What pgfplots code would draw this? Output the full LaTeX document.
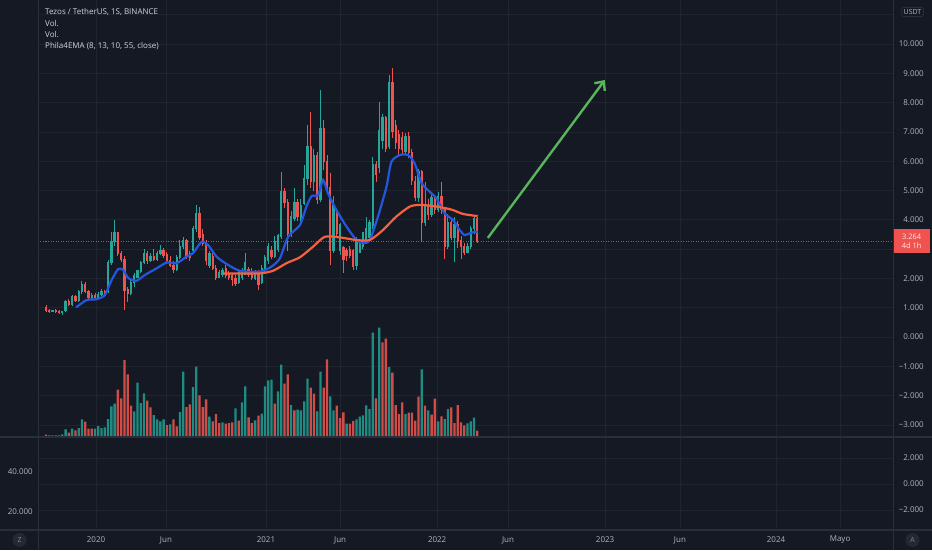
\documentclass[border=0pt]{standalone}
\usepackage{fontspec}
\setmainfont{Open Sans}
\usepackage{pgfplots}
\pgfplotsset{compat=1.18}
\usepackage{pgfplotstable}
\usetikzlibrary{arrows.meta}
\definecolor{bgc}{HTML}{151924}
\definecolor{gridc}{HTML}{20242E}
\definecolor{sepc}{HTML}{2A2E39}
\definecolor{txt}{HTML}{B2B5BE}
\definecolor{ttl}{HTML}{D1D4DC}
\definecolor{upc}{HTML}{26A69A}
\definecolor{dnc}{HTML}{EF5350}
\definecolor{vup}{HTML}{1F8C83}
\definecolor{vdn}{HTML}{CF4D48}
\definecolor{emab}{HTML}{2457E0}
\definecolor{emar}{HTML}{F5613E}
\definecolor{arr}{HTML}{58B55C}
\definecolor{lbl}{HTML}{F0524F}

\pgfplotstableread{
w o h l c v g
0 1.02 1.08 0.85 0.90 2.3 0
1 0.90 0.95 0.82 0.88 1.7 0
2 0.88 0.93 0.84 0.91 1.7 1
3 0.91 0.94 0.83 0.86 1.7 0
4 0.86 0.92 0.80 0.84 1.7 0
5 0.84 0.90 0.76 0.88 2.7 1
6 0.90 1.25 0.86 1.20 7.7 1
7 1.22 1.30 1.05 1.10 4.3 0
8 1.10 1.45 1.05 1.38 8.3 1
9 1.38 1.45 1.20 1.25 6.7 0
10 1.25 1.62 1.20 1.55 9.0 1
11 1.55 1.90 1.48 1.80 17.7 1
12 1.80 1.88 1.50 1.55 15.3 0
13 1.55 1.62 1.30 1.35 8.3 0
14 1.35 1.50 1.28 1.42 8.3 0
15 1.42 1.50 1.30 1.36 8.3 1
16 1.36 1.55 1.30 1.45 11.0 1
17 1.45 1.65 1.40 1.55 9.0 1
18 1.55 1.60 1.38 1.42 9.7 1
19 1.55 2.62 1.50 2.55 18.0 1
20 2.55 3.60 2.45 3.25 30.7 1
21 3.25 3.98 3.10 3.55 33.3 1
22 3.55 3.60 2.75 2.85 47.3 0
23 2.85 2.95 2.55 2.65 38.7 0
24 2.65 2.75 0.92 1.60 77.0 0
25 1.62 1.70 1.20 1.48 62.7 0
26 1.48 1.95 1.42 1.85 31.3 0
27 1.85 2.20 1.70 2.10 25.7 1
28 2.05 2.30 2.00 2.25 54.3 1
29 2.25 2.60 2.20 2.55 34.0 1
30 2.55 3.00 2.50 2.85 43.7 1
31 2.85 2.95 2.50 2.60 36.3 0
32 2.60 2.85 2.55 2.75 29.7 0
33 2.75 3.00 2.60 2.65 22.0 1
34 2.65 2.95 2.60 2.85 17.7 1
35 2.85 3.15 2.80 2.95 15.7 1
36 2.95 3.05 2.70 2.80 17.7 1
37 2.80 2.90 2.50 2.60 12.0 0
38 2.60 2.75 2.40 2.45 12.7 1
39 2.45 2.60 2.20 2.30 17.7 0
40 2.30 2.80 2.25 2.70 10.7 0
41 2.70 3.30 2.65 3.10 25.0 1
42 3.10 3.40 3.00 3.30 65.3 1
43 3.30 3.35 2.65 2.75 30.0 0
44 2.85 2.95 2.60 2.70 32.7 0
45 2.95 3.80 2.90 3.70 50.0 1
46 3.70 4.50 3.60 4.20 70.3 1
47 4.20 4.45 3.30 3.40 41.7 0
48 3.50 3.70 3.10 3.20 30.0 0
49 3.20 3.30 2.45 2.60 37.7 0
50 2.45 2.95 2.35 2.85 20.3 1
51 2.75 2.85 2.30 2.35 15.7 0
52 2.35 2.45 1.95 2.05 23.0 0
53 2.05 2.30 2.00 2.20 14.0 0
54 2.15 2.35 2.05 2.25 14.7 1
55 2.35 2.45 2.00 2.10 13.3 0
56 2.15 2.25 1.95 2.02 14.0 0
57 2.10 2.20 1.75 1.95 14.7 0
58 2.00 2.10 1.75 1.82 28.7 1
59 1.85 2.30 1.80 2.20 16.3 0
60 2.05 2.35 1.95 2.25 34.7 1
61 2.15 2.85 2.10 2.55 50.7 1
62 2.30 2.40 2.05 2.15 19.7 0
63 2.20 2.35 1.95 2.05 14.0 0
64 2.00 2.30 1.95 2.20 16.7 1
65 2.20 2.30 1.60 1.80 21.3 0
66 1.85 2.45 1.80 2.35 23.3 1
67 2.30 2.80 2.20 2.70 50.7 1
68 2.60 3.20 2.50 3.10 56.7 1
69 2.95 3.10 2.65 2.75 57.3 1
70 2.75 3.45 2.70 3.25 33.3 0
71 3.00 3.50 2.90 3.45 45.7 1
72 3.45 5.64 3.35 4.95 72.3 1
73 4.95 5.10 4.40 4.60 53.3 0
74 4.60 4.70 2.95 3.55 62.7 0
75 3.50 4.30 3.40 4.10 32.0 1
76 4.05 5.07 3.95 4.60 26.7 0
77 4.60 4.70 3.95 4.10 27.3 1
78 4.00 4.70 3.90 4.50 26.7 1
79 4.55 5.87 4.50 5.40 35.7 1
80 5.40 7.24 5.20 6.50 58.3 1
81 6.50 7.69 5.10 5.30 49.3 0
82 5.30 6.40 5.00 6.20 43.3 0
83 6.20 6.30 4.55 4.70 25.7 1
84 4.70 8.43 4.60 7.10 65.3 1
85 7.10 7.40 5.70 6.00 49.3 0
86 6.00 6.20 4.90 5.10 77.7 0
87 5.10 5.60 2.46 2.95 40.7 1
88 2.95 4.80 2.85 4.50 26.7 1
89 4.20 4.40 3.40 3.55 31.3 0
90 2.95 3.90 2.80 3.85 19.0 0
91 3.05 3.10 2.17 2.65 24.7 0
92 2.95 3.05 2.60 2.80 13.3 1
93 3.00 3.10 2.70 2.80 13.3 0
94 2.95 3.00 2.30 2.40 16.0 0
95 2.45 3.40 2.30 3.30 17.7 1
96 2.90 3.25 2.85 3.15 20.3 1
97 3.10 3.60 3.00 3.55 21.7 1
98 3.25 4.10 3.20 3.70 31.7 1
99 3.40 4.00 3.30 3.90 28.0 1
100 3.80 6.15 3.70 5.90 104.3 1
101 5.90 6.00 5.30 5.55 38.7 0
102 5.80 8.03 5.60 7.05 109.3 1
103 6.70 7.60 6.40 7.50 94.7 0
104 7.50 7.55 6.30 6.45 98.3 0
105 6.50 8.94 6.40 8.70 70.0 1
106 8.70 9.17 6.80 7.00 64.3 0
107 7.20 7.41 6.40 6.65 32.0 0
108 6.90 7.05 6.20 6.45 23.0 0
109 6.80 7.00 6.25 6.40 34.7 0
110 6.35 6.95 6.20 6.85 23.0 1
111 6.85 7.00 6.10 6.30 24.3 0
112 6.30 6.40 5.20 5.35 24.3 0
113 5.30 5.50 4.65 4.75 16.3 0
114 4.75 5.75 4.60 5.64 40.3 0
115 5.64 5.70 3.25 3.90 67.7 1
116 3.90 5.30 3.80 4.50 31.3 0
117 4.50 4.70 4.00 4.20 26.7 1
118 4.20 4.90 4.10 4.75 22.3 0
119 4.75 4.80 4.20 4.35 38.3 0
120 4.35 4.95 4.25 4.80 15.7 1
121 4.80 5.30 4.20 4.35 20.7 0
122 4.35 4.45 2.65 3.10 18.0 1
123 3.10 4.20 3.00 3.90 28.0 1
124 3.90 4.00 3.30 3.40 29.7 0
125 3.40 4.10 2.55 3.85 14.0 0
126 3.85 3.95 3.05 3.30 32.0 0
127 3.30 3.45 2.65 3.10 14.7 0
128 3.10 3.20 2.80 2.90 11.7 0
129 2.90 3.20 2.85 3.10 13.7 1
130 3.10 3.80 3.00 3.70 15.7 1
131 3.70 4.11 3.50 4.05 19.3 1
132 4.05 4.10 3.20 3.264 6.3 0
}\candles

\pgfplotsset{
  tvaxis/.style={
    at={(38pt,113pt)}, anchor=south west, scale only axis,
    width=855pt, height=437pt,
    xmin=-2.45, xmax=259.2,
    axis line style={draw=none}, major tick length=0pt,
  },
  ticklbl/.style={font=\fontsize{8}{9}\selectfont, text=txt, inner sep=0pt},
  candle/.style n args={3}{draw=none, mark=none,
    error bars/.cd, y dir=#3, y explicit, error mark=none,
    error bar style={draw=#1, line width=#2}},
}

\begin{document}
\begin{tikzpicture}
\fill[bgc] (0pt,0pt) rectangle (932pt,550pt);

% price grid + right labels
\begin{axis}[tvaxis,
  ymin=-3.413, ymax=11.502,
  xtick={15.3,36.7,67.3,90.0,119.7,141.4,171.1,194.0,223.4,243.0},
  xticklabels={},
  ytick={-3,-2,-1,0,1,2,3,4,5,6,7,8,9,10,11},
  yticklabels={−3.000,−2.000,−1.000,0.000,1.000,2.000,,4.000,5.000,6.000,7.000,8.000,9.000,10.000,},
  yticklabel pos=right,
  yticklabel style={ticklbl, anchor=east, xshift=31pt},
  grid=major, grid style={gridc, line width=0.8pt},
]
\end{axis}

% volume
\begin{axis}[tvaxis, ymin=0, ymax=437, hide axis]
\addplot[ybar, bar width=2.3pt, bar shift=0pt, fill=vup, draw=none,
  x filter/.expression={\thisrow{g}==1 ? x : nan}]
  table[x=w, y=v] {\candles};
\addplot[ybar, bar width=2.3pt, bar shift=0pt, fill=vdn, draw=none,
  x filter/.expression={\thisrow{g}==0 ? x : nan}]
  table[x=w, y=v] {\candles};
\end{axis}

% candles, EMAs, annotations
\begin{axis}[tvaxis, ymin=-3.413, ymax=11.502, hide axis, clip=false]
% last price line
\addplot[dnc!80!bgc, line width=0.8pt, dash pattern=on 1pt off 1.5pt] coordinates {(-2.45,3.264) (259.2,3.264)};
% wicks
\addplot[x filter/.expression={\thisrow{c}>=\thisrow{o} ? x : nan},
  candle={upc}{1pt}{plus}]
  table[x=w, y=l, y error expr=\thisrow{h}-\thisrow{l}] {\candles};
\addplot[x filter/.expression={\thisrow{c}<\thisrow{o} ? x : nan},
  candle={dnc}{1pt}{plus}]
  table[x=w, y=l, y error expr=\thisrow{h}-\thisrow{l}] {\candles};
% bodies
\addplot[x filter/.expression={\thisrow{c}>=\thisrow{o} ? x : nan},
  candle={upc}{2.3pt}{both}]
  table[x=w, y expr=(\thisrow{o}+\thisrow{c})/2, y error expr=abs(\thisrow{c}-\thisrow{o})/2+0.02] {\candles};
\addplot[x filter/.expression={\thisrow{c}<\thisrow{o} ? x : nan},
  candle={dnc}{2.3pt}{both}]
  table[x=w, y expr=(\thisrow{o}+\thisrow{c})/2, y error expr=abs(\thisrow{c}-\thisrow{o})/2+0.02] {\candles};
% EMA blue
\addplot[emab, line width=2.2pt, smooth, tension=0.4] coordinates {
(9.2,1.01) (12.4,1.26) (15.5,1.29) (18.0,1.43) (20.1,1.95) (22.1,2.32) (23.6,2.29) (25.2,2.01) (27.7,1.92) (30.3,2.12) (33.8,2.34) (36.9,2.54) (40.0,2.52) (43.0,2.74) (45.0,2.86) (47.6,3.25) (49.6,3.14) (52.2,2.74) (55.3,2.49) (59.3,2.26) (65.4,2.23) (69.0,2.40) (71.6,2.69) (74.1,3.42) (77.7,3.82) (79.7,4.45) (81.3,4.81) (83.3,4.85) (84.8,5.36) (86.3,4.90) (88.9,4.33) (92.0,3.76) (95.0,3.31) (97.0,3.20) (99.1,3.31) (101.6,4.11) (104.2,5.13) (105.7,5.98) (108.3,6.21) (110.8,6.21) (112.8,5.93) (114.9,5.26) (117.4,4.96) (119.5,4.73) (122.0,4.22) (124.6,3.99) (126.6,3.65) (128.1,3.48) (129.7,3.54) (131.2,3.59) (132.1,3.58)};
% EMA red
\addplot[emar, line width=2.2pt, smooth, tension=0.4] coordinates {
(54.2,2.17) (59.3,2.17) (65.4,2.17) (69.5,2.26) (73.6,2.52) (77.7,2.72) (81.7,3.08) (85.3,3.42) (89.9,3.40) (95.0,3.31) (99.1,3.31) (103.1,3.65) (107.2,4.11) (111.3,4.45) (114.4,4.51) (118.4,4.47) (122.5,4.39) (124.6,4.33) (127.6,4.20) (131.7,4.13) (132.1,4.12)};
% arrow
\addplot[arr, line width=2.4pt, -{Straight Barb[length=7pt, width=13pt, line width=2.4pt]}] coordinates {(135.2,3.38) (171.0,8.77)};
% price label
\node[fill=lbl, anchor=west, minimum width=37pt, minimum height=24pt, inner sep=0pt,
  align=center, text=white!88!lbl, font=\fontsize{7.5}{9.5}\selectfont]
  at (axis cs:259.2,3.264) {3.264\\4d 1h};
\end{axis}

% lower pane right axis
\begin{axis}[tvaxis, at={(38pt,20pt)}, height=93pt,
  ymin=-3.538, ymax=3.615,
  xtick={15.3,36.7,67.3,90.0,119.7,141.4,171.1,194.0,223.4,243.0},
  xticklabels={2020,Jun,2021,Jun,2022,Jun,2023,Jun,2024,Mayo},
  xticklabel style={ticklbl, anchor=center, yshift=-10pt},
  ytick={-2,0,2}, yticklabels={−2.000,0.000,2.000},
  yticklabel pos=right,
  yticklabel style={ticklbl, anchor=east, xshift=31pt},
  grid=major, grid style={gridc, line width=0.8pt},
]
\end{axis}
% lower pane left axis
\begin{axis}[tvaxis, at={(38pt,20pt)}, height=93pt,
  ymin=11, ymax=57.5, xtick=\empty,
  ytick={20,40}, yticklabels={20.000,40.000},
  yticklabel pos=left,
  yticklabel style={ticklbl, anchor=east, xshift=-5pt},
]
\end{axis}

% pane separators
\draw[sepc, line width=1.6pt] (0pt,113pt) -- (932pt,113pt);
\draw[sepc, line width=1.2pt] (0pt,20pt) -- (932pt,20pt);
\draw[sepc, line width=1pt] (38pt,0pt) -- (38pt,550pt);
\draw[sepc, line width=1pt] (893pt,0pt) -- (893pt,550pt);

% legend texts
\node[anchor=west, inner sep=0pt, text=ttl, font=\fontsize{8}{9}\selectfont] at (45pt,538.3pt) {Tezos / TetherUS, 1S, BINANCE};
\node[anchor=west, inner sep=0pt, text=ttl, font=\fontsize{8}{9}\selectfont] at (45pt,526.7pt) {Vol.};
\node[anchor=west, inner sep=0pt, text=ttl, font=\fontsize{8}{9}\selectfont] at (45pt,515.7pt) {Vol.};
\node[anchor=west, inner sep=0pt, text=ttl, font=\fontsize{8}{9}\selectfont] at (45pt,504pt) {Phila4EMA (8, 13, 10, 55, close)};

% USDT box
\node[draw=sepc, rounded corners=2pt, line width=0.8pt, text=txt, inner sep=2pt, font=\fontsize{7}{8}\selectfont] at (912.5pt,538pt) {USDT};
% corner buttons
\fill[sepc!70!bgc] (19.5pt,10pt) circle (7pt);
\node[text=txt!70!bgc, font=\fontsize{7}{8}\selectfont] at (19.5pt,10pt) {Z};
\fill[sepc!70!bgc] (912.5pt,10pt) circle (7pt);
\node[text=txt!70!bgc, font=\fontsize{7}{8}\selectfont] at (912.5pt,10pt) {A};

\pgfresetboundingbox
\path[use as bounding box] (0pt,0pt) rectangle (932pt,550pt);
\end{tikzpicture}
\end{document}
